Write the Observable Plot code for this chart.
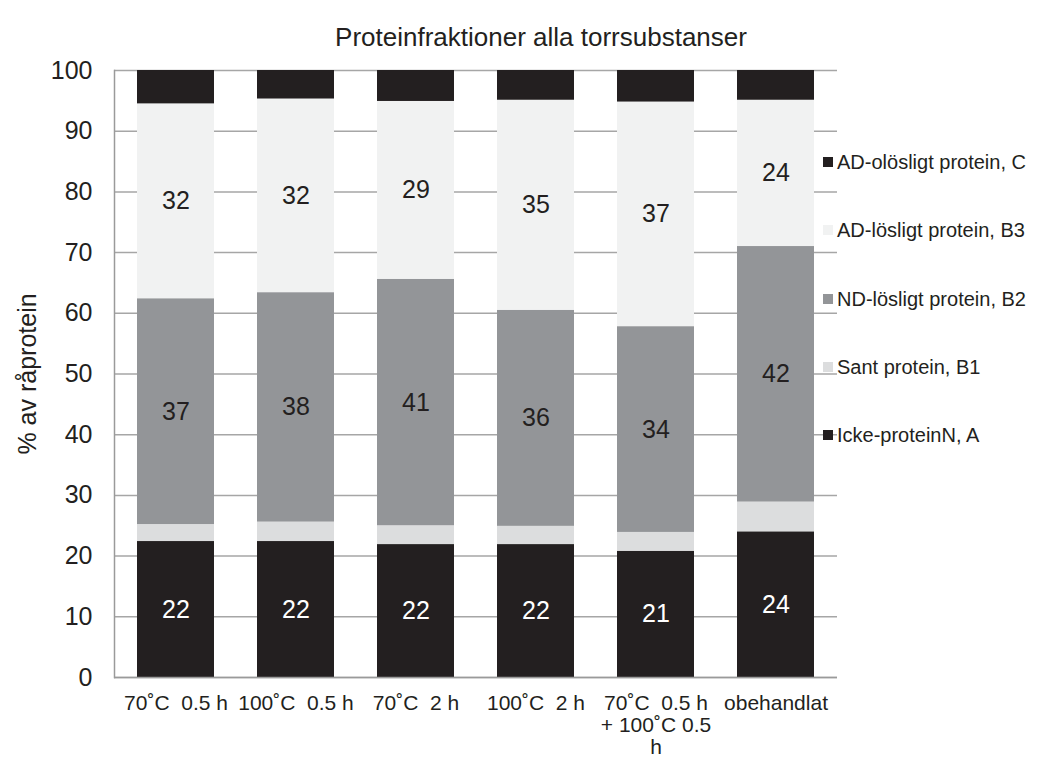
<!DOCTYPE html>
<html>
<head>
<meta charset="utf-8">
<script src="https://cdn.jsdelivr.net/npm/d3@7"></script>
<script src="https://cdn.jsdelivr.net/npm/@observablehq/plot@0.6"></script>
<style>
  html, body { margin: 0; padding: 0; background: #ffffff; overflow: hidden; }
  body { font-family: "Liberation Sans", Arial, sans-serif; color: #231f20; }
  #wrap { position: relative; width: 1042px; height: 758px; }
  #title { position: absolute; left: 41px; width: 1000px; top: 22px; text-align: center;
           font-size: 26px; line-height: 30px; color: #231f20; }
  #plot { position: absolute; left: 0; top: 0; }
  #legend { position: absolute; left: 0; top: 0; }
  .item { position: absolute; left: 823px; height: 24px; line-height: 24px; font-size: 20px;
          white-space: nowrap; color: #231f20; }
  .sw { position: absolute; left: 0; top: 7px; width: 10px; height: 10px; }
  .lab { position: absolute; left: 14px; top: 0; }
  svg text { white-space: pre; }
</style>
</head>
<body>
<div id="wrap">
  <div id="plot"></div>
  <div id="title">Proteinfraktioner alla torrsubstanser</div>
  <div id="legend"></div>
</div>
<script>
// ---- data ----
const categories = [
  "70˚C  0.5 h",
  "100˚C  0.5 h",
  "70˚C  2 h",
  "100˚C  2 h",
  "70˚C  0.5 h\n+ 100˚C 0.5\nh",
  "obehandlat"
];
const seriesNames = [
  "Icke-proteinN, A",
  "Sant protein, B1",
  "ND-lösligt protein, B2",
  "AD-lösligt protein, B3",
  "AD-olösligt protein, C"
];
const A  = [22.4, 22.4, 21.9, 21.9, 20.8, 24.0];
const B1 = [2.8, 3.2, 3.1, 3.0, 3.1, 4.9];
const B2 = [37.2, 37.8, 40.6, 35.6, 33.9, 42.1];
const B3 = [32.1, 31.9, 29.3, 34.6, 37.0, 24.1];
const C  = [5.5, 4.7, 5.1, 4.9, 5.2, 4.9];
const seriesColors = ["#231f20", "#dcddde", "#939598", "#f1f2f2", "#231f20"];
const labelled = [true, false, true, true, false];
const labelColors = ["#ffffff", "#231f20", "#231f20", "#231f20", "#231f20"];
const yTicks = [0, 10, 20, 30, 40, 50, 60, 70, 80, 90, 100];
const yLabel = "% av råprotein";

const values = [A, B1, B2, B3, C];
const rows = [];
categories.forEach((c, i) => {
  seriesNames.forEach((s, j) => {
    rows.push({cat: c, series: s, j, value: values[j][i]});
  });
});

const font = '"Liberation Sans", Arial, sans-serif';

const chart = Plot.plot({
  width: 1042,
  height: 758,
  marginLeft: 114,
  marginRight: 205,
  marginTop: 70,
  marginBottom: 81,
  style: {fontFamily: font, color: "#231f20", background: "transparent"},
  x: {domain: categories, paddingInner: 0.36, paddingOuter: 0.18, label: null},
  y: {domain: [0, 100], label: null},
  color: {type: "identity"},
  marks: [
    Plot.gridY(yTicks, {stroke: "#a6a6a6", strokeOpacity: 1, strokeWidth: 1.5}),
    Plot.barY(rows, {x: "cat", y: "value", z: "series", fill: d => seriesColors[d.j]}),
    Plot.text(rows, Plot.stackY({
      x: "cat", y: "value", z: "series",
      text: d => labelled[d.j] ? String(Math.round(d.value)) : null,
      fill: d => labelColors[d.j],
      fontSize: 25
    })),
    Plot.axisY(yTicks, {tickSize: 0, tickPadding: 22, fontSize: 25, label: null, fill: "#231f20"}),
    Plot.axisX({tickSize: 0, tickPadding: 17, fontSize: 21, lineHeight: 1.04, label: null, fill: "#231f20"}),
    Plot.ruleY([0], {stroke: "#9a9a9a", strokeWidth: 1.5}),
    Plot.frame({anchor: "left", stroke: "#9a9a9a", strokeWidth: 1.5}),
    Plot.text([yLabel], {frameAnchor: "left", textAnchor: "middle", rotate: -90, dx: -87, fontSize: 25, fill: "#231f20"})
  ]
});
document.getElementById("plot").appendChild(chart);

// ---- legend (top to bottom: C, B3, B2, B1, A) ----
const legend = document.getElementById("legend");
const order = [4, 3, 2, 1, 0];
order.forEach((j, k) => {
  const item = document.createElement("div");
  item.className = "item";
  item.style.top = (162 + k * 68.3 - 12) + "px";
  const sw = document.createElement("div");
  sw.className = "sw";
  sw.style.background = seriesColors[j];
  const lab = document.createElement("div");
  lab.className = "lab";
  lab.textContent = seriesNames[j];
  item.appendChild(sw);
  item.appendChild(lab);
  legend.appendChild(item);
});
</script>
</body>
</html>
